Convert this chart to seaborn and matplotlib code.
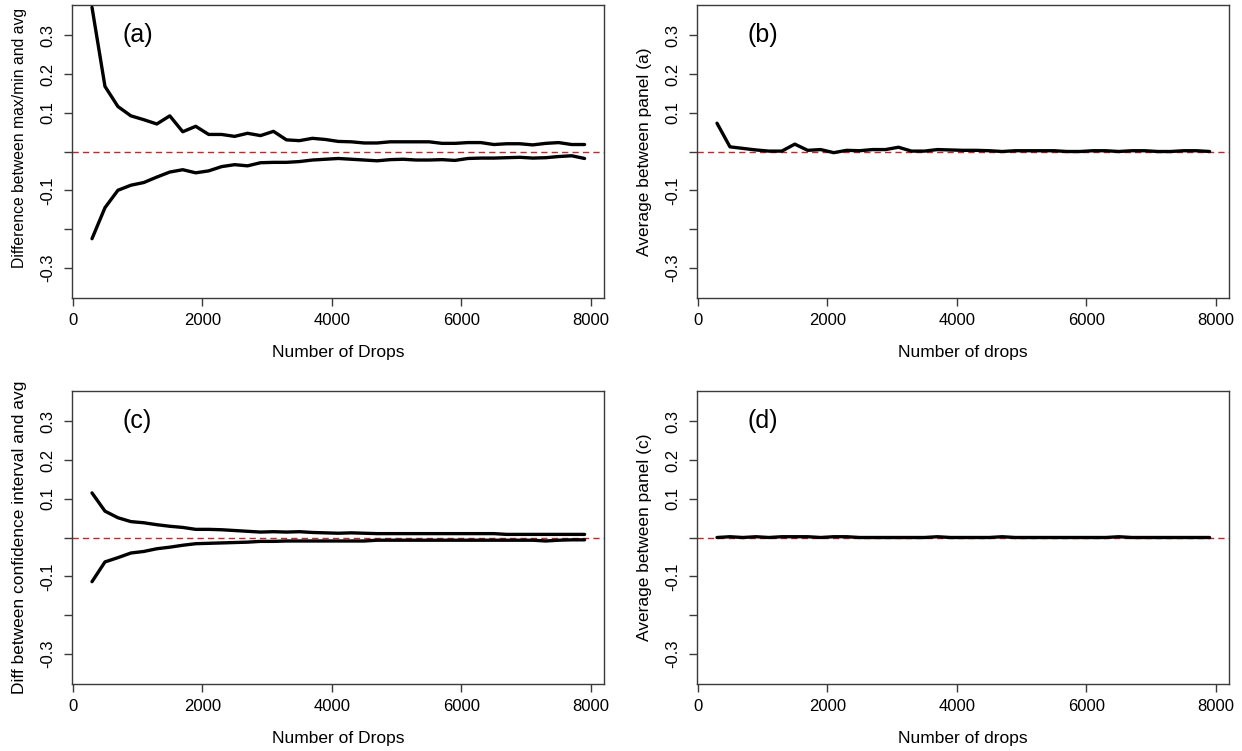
import matplotlib
matplotlib.use("Agg")
import matplotlib.pyplot as plt
import seaborn as sns
import pandas as pd

# Number of drops at which each statistic was evaluated
drops = [300, 500, 700, 900, 1100, 1300, 1500, 1700, 1900, 2100, 2300, 2500, 2700,
         2900, 3100, 3300, 3500, 3700, 3900, 4100, 4300, 4500, 4700, 4900, 5100,
         5300, 5500, 5700, 5900, 6100, 6300, 6500, 6700, 6900, 7100, 7300, 7500,
         7700, 7900]

# (a) max - avg and min - avg
max_minus_avg = [0.372, 0.168, 0.116, 0.092, 0.082, 0.071, 0.092, 0.051, 0.065, 0.044,
                 0.044, 0.039, 0.047, 0.041, 0.052, 0.030, 0.028, 0.034, 0.031, 0.026,
                 0.025, 0.022, 0.022, 0.025, 0.025, 0.025, 0.025, 0.021, 0.021, 0.023,
                 0.023, 0.018, 0.020, 0.020, 0.017, 0.021, 0.023, 0.018, 0.018]
min_minus_avg = [-0.225, -0.145, -0.100, -0.087, -0.080, -0.066, -0.053, -0.047, -0.055,
                 -0.050, -0.039, -0.034, -0.037, -0.029, -0.028, -0.028, -0.026, -0.022,
                 -0.020, -0.018, -0.020, -0.022, -0.024, -0.021, -0.020, -0.022, -0.022,
                 -0.021, -0.023, -0.018, -0.017, -0.017, -0.016, -0.015, -0.017, -0.016,
                 -0.013, -0.011, -0.018]

# (b) average of the two curves in (a)
avg_panel_a = [0.073, 0.012, 0.008, 0.004, 0.001, 0.001, 0.019, 0.003, 0.005, -0.003,
               0.003, 0.002, 0.005, 0.005, 0.011, 0.001, 0.001, 0.005, 0.004, 0.003,
               0.003, 0.002, 0.000, 0.002, 0.002, 0.002, 0.002, 0.000, 0.000, 0.002,
               0.002, 0.000, 0.002, 0.002, 0.000, 0.000, 0.002, 0.002, 0.000]

# (c) upper / lower confidence bound minus avg
ci_upper = [0.115, 0.068, 0.051, 0.041, 0.038, 0.033, 0.029, 0.026, 0.021, 0.021,
            0.020, 0.018, 0.016, 0.014, 0.015, 0.014, 0.015, 0.013, 0.012, 0.011,
            0.012, 0.011, 0.010, 0.010, 0.010, 0.010, 0.010, 0.010, 0.010, 0.010,
            0.010, 0.010, 0.008, 0.008, 0.008, 0.008, 0.008, 0.008, 0.008]
ci_lower = [-0.114, -0.063, -0.052, -0.040, -0.036, -0.029, -0.025, -0.020, -0.016,
            -0.015, -0.014, -0.013, -0.012, -0.010, -0.010, -0.009, -0.009, -0.009,
            -0.009, -0.009, -0.009, -0.009, -0.007, -0.007, -0.007, -0.007, -0.007,
            -0.007, -0.007, -0.007, -0.007, -0.007, -0.007, -0.007, -0.007, -0.009,
            -0.007, -0.006, -0.006]

# (d) average of the two curves in (c)
avg_panel_c = [0.000, 0.002, 0.000, 0.002, 0.000, 0.002, 0.002, 0.002, 0.000, 0.002,
               0.002, 0.000, 0.000, 0.000, 0.000, 0.000, 0.000, 0.002, 0.000, 0.000,
               0.000, 0.000, 0.002, 0.000, 0.000, 0.000, 0.000, 0.000, 0.000, 0.000,
               0.000, 0.002, 0.000, 0.000, 0.000, 0.000, 0.000, 0.000, 0.000]

y_ticks = [-0.3, -0.2, -0.1, 0.0, 0.1, 0.2, 0.3]
y_tick_labels = ["-0.3", "", "-0.1", "", "0.1", "0.2", "0.3"]
x_ticks = [0, 2000, 4000, 6000, 8000]

panels = [
    dict(tag="(a)", series=[max_minus_avg, min_minus_avg],
         xlabel="Number of Drops", ylabel="Difference between max/min and avg",
         ylab_size=11.3, ylab_y=0.546),
    dict(tag="(b)", series=[avg_panel_a],
         xlabel="Number of drops", ylabel="Average between panel (a)",
         ylab_size=12.5, ylab_y=0.50),
    dict(tag="(c)", series=[ci_upper, ci_lower],
         xlabel="Number of Drops", ylabel="Diff between confidence interval and avg",
         ylab_size=12.5, ylab_y=0.50),
    dict(tag="(d)", series=[avg_panel_c],
         xlabel="Number of drops", ylabel="Average between panel (c)",
         ylab_size=12.5, ylab_y=0.50),
]

sns.set_theme(style="white")
plt.rcParams["font.family"] = ["Liberation Sans", "DejaVu Sans"]
plt.rcParams["text.color"] = "black"
plt.rcParams["axes.labelcolor"] = "black"
plt.rcParams["xtick.color"] = "black"
plt.rcParams["ytick.color"] = "black"

fig = plt.figure(figsize=(12.42, 7.51), dpi=100)

W, H = 1242.0, 751.0
ax_w, ax_h = 532.0, 293.0
lefts = [72.3, 697.3]
tops = [5.0, 391.0]
spine_col = "#3a3a3a"

for i, p in enumerate(panels):
    row, col = divmod(i, 2)
    left = lefts[col] / W
    bottom = (H - tops[row] - ax_h) / H
    ax = fig.add_axes([left, bottom, ax_w / W, ax_h / H])

    ax.axhline(0, color="#c0282d", lw=1.0, ls=(0, (4.5, 3)), zorder=1)
    for s in p["series"]:
        df = pd.DataFrame({"drops": drops, "value": s})
        sns.lineplot(data=df, x="drops", y="value", ax=ax, color="black",
                     lw=2.4, zorder=3)

    ax.set_xlim(-4, 8204)
    ax.set_ylim(-0.378, 0.378)
    ax.set_xticks(x_ticks)
    ax.set_xticklabels([str(t) for t in x_ticks])
    ax.set_yticks(y_ticks)
    ax.set_yticklabels(y_tick_labels, rotation=90, va="center")

    ax.tick_params(axis="both", which="major", direction="out", length=6,
                   width=1.0, color=spine_col, labelsize=12, labelcolor="black",
                   bottom=True, left=True, top=False, right=False)
    ax.tick_params(axis="x", pad=5)
    ax.tick_params(axis="y", pad=6)
    for sp in ax.spines.values():
        sp.set_color(spine_col)
        sp.set_linewidth(1.0)
        sp.set_visible(True)

    ax.set_xlabel(p["xlabel"], fontsize=12.5, color="black")
    ax.set_ylabel(p["ylabel"], fontsize=p["ylab_size"], color="black")
    ax.xaxis.set_label_coords(0.5, -55.0 / ax_h)
    ax.xaxis.label.set_va("center")
    ax.yaxis.set_label_coords(-53.0 / ax_w, p["ylab_y"])
    ax.yaxis.label.set_va("center")

    ax.text(1000, 0.3, p["tag"], fontsize=18, ha="center", va="center",
            color="black")
    ax.set_facecolor("white")

fig.savefig("out.png", dpi=100, facecolor="white")
